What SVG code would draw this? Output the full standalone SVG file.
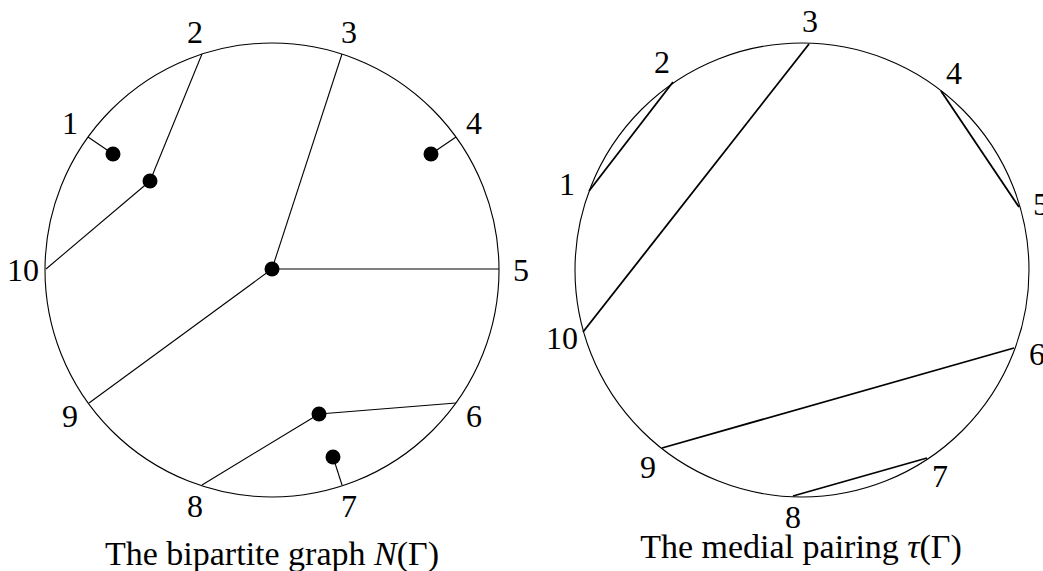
<svg xmlns="http://www.w3.org/2000/svg" width="1043" height="571" viewBox="0 0 1043 571">
<rect width="1043" height="571" fill="#fff"/>
<g id="left-graph">
<circle id="left-circle" cx="272" cy="270" r="227" fill="none" stroke="#000" stroke-width="1.1"/>
<g id="left-connectors" stroke="#000" stroke-width="1.1" fill="none">
<line x1="88" y1="137" x2="113" y2="154"/>
<line x1="202" y1="54" x2="150" y2="181"/>
<line x1="150" y1="181" x2="46" y2="269"/>
<line x1="456" y1="137" x2="431" y2="154"/>
<line x1="342" y1="54" x2="272" y2="269"/>
<line x1="272" y1="269" x2="499" y2="269"/>
<line x1="272" y1="269" x2="89" y2="403"/>
<line x1="456" y1="403" x2="319" y2="414"/>
<line x1="319" y1="414" x2="202" y2="485"/>
<line x1="333" y1="457" x2="342" y2="485"/>
</g>
<g id="dot-a"><circle cx="113" cy="154" r="7.5"/></g>
<g id="dot-b"><circle cx="150" cy="181" r="7.5"/></g>
<g id="dot-c"><circle cx="431" cy="154" r="7.5"/></g>
<g id="dot-d"><circle cx="272" cy="269" r="7.5"/></g>
<g id="dot-e"><circle cx="319" cy="414" r="7.5"/></g>
<g id="dot-f"><circle cx="333" cy="457" r="7.5"/></g>
<g id="left-labels" font-family="Liberation Serif" font-size="32" text-anchor="middle">
<text x="70" y="134">1</text>
<text x="195" y="43">2</text>
<text x="349" y="43">3</text>
<text x="474" y="134">4</text>
<text x="521" y="281">5</text>
<text x="474" y="427">6</text>
<text x="349" y="517">7</text>
<text x="195" y="517">8</text>
<text x="70" y="427">9</text>
<text x="23" y="281">10</text>
</g>
<text id="left-caption" font-family="Liberation Serif" font-size="34" text-anchor="middle" x="272" y="565">The bipartite graph <tspan font-style="italic">N</tspan>(Γ)</text>
</g>
<g id="right-pairing">
<circle id="right-circle" cx="802" cy="270" r="227" fill="none" stroke="#000" stroke-width="1.1"/>
<g id="right-connectors" stroke="#000" stroke-width="1.8" fill="none">
<line x1="589" y1="191" x2="673" y2="82"/>
<line x1="809" y1="44" x2="583" y2="332"/>
<line x1="941" y1="91" x2="1019" y2="207"/>
<line x1="1014" y1="348" x2="662" y2="448"/>
<line x1="927" y1="458" x2="793" y2="496"/>
</g>
<g id="right-labels" font-family="Liberation Serif" font-size="32" text-anchor="middle">
<text x="567" y="195">1</text>
<text x="662" y="73">2</text>
<text x="810" y="32">3</text>
<text x="954" y="84">4</text>
<text x="1041" y="215">5</text>
<text x="1037" y="365">6</text>
<text x="940" y="487">7</text>
<text x="793" y="528">8</text>
<text x="648" y="478">9</text>
<text x="562" y="349">10</text>
</g>
<text id="right-caption" font-family="Liberation Serif" font-size="34" text-anchor="middle" x="801" y="558">The medial pairing <tspan font-style="italic">τ</tspan>(Γ)</text>
</g>
</svg>
